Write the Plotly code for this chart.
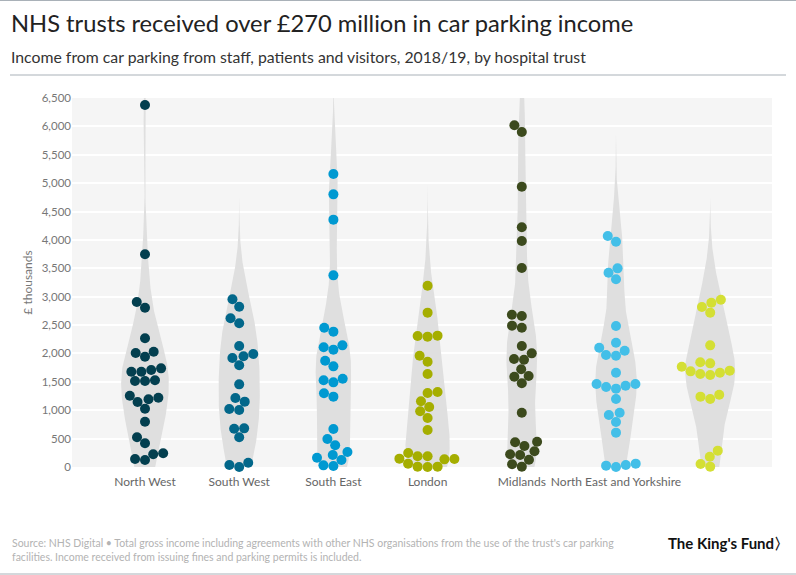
import numpy as np
import plotly.graph_objects as go

# ---------------- data (values in £ thousands) ----------------
regions = ["North West", "South West", "South East", "London", "Midlands",
           "North East and Yorkshire", "East of England"]
tick_labels = ["North West", "South West", "South East", "London", "Midlands",
               "North East and Yorkshire", ""]

north_west = [6377, 3747, 2906, 2806, 2267, 2008, 2031, 1943, 1679, 1679, 1709, 1738,
              1515, 1515, 1527, 1192, 1256, 1221, 1145, 1027, 798, 523, 417, 224, 241,
              141, 123]
south_west = [2954, 2824, 2619, 2531, 2131, 1950, 1990, 1920, 1791, 1456, 1215, 1151,
              1004, 1022, 681, 675, 523, 35, 0, 76]
south_east = [5161, 4803, 4357, 3376, 2454, 2384, 2143, 2108, 2067, 1873, 1773, 1556,
              1491, 1527, 1298, 1239, 669, 493, 382, 264, 211, 164, 123, 18, 29]
london = [3194, 2719, 2308, 2314, 2296, 1961, 1855, 1638, 1321, 1304, 1157, 1057, 981,
          863, 652, 247, 188, 147, 135, 188, 141, 59, 6, 0, 6]
midlands = [6019, 5901, 4938, 4222, 3981, 3505, 2660, 2683, 2454, 2490, 2131, 2002,
            1902, 1890, 1721, 1603, 1591, 1474, 957, 435, 446, 370, 276, 211, 224, 129,
            47, 6]
north_east_yorkshire = [4069, 3969, 3499, 3423, 3306, 2484, 2190, 2102, 2049, 1961, 1973,
                        1661, 1432, 1462, 1380, 1409, 1462, 1198, 916, 957, 793, 605, 35,
                        0, 24, 59]
east_of_england = [2894, 2947, 2818, 2719, 2143, 1844, 1826, 1767, 1638, 1685, 1621, 1661,
                   1697, 1274, 1198, 1239, 288, 182, 53, 6]

series = [north_west, south_west, south_east, london, midlands,
          north_east_yorkshire, east_of_england]
colors = ["#033f4f", "#02678a", "#0099d1", "#a5ae00", "#3c4a1d", "#43bfe8", "#d4df34"]

y_ticks = list(range(0, 6501, 500))

# ---------------- geometry helpers ----------------
W, H = 796, 575
ML, MR, MT, MB = 72, 24, 98, 108
PW, PH = W - ML - MR, H - MT - MB
Y_MAX = 6500
X_RANGE = [-0.775, 6.656]
PX_PER_UNIT = PH / Y_MAX
PX_PER_CAT = PW / (X_RANGE[1] - X_RANGE[0])
DOT = 10.0
BW = 600.0
HALF_MAX = 25.0 / PX_PER_CAT


def beeswarm(values):
    ys = np.asarray(values, float) * PX_PER_UNIT
    order = np.argsort(ys, kind="stable")
    xs = np.zeros(len(ys))
    placed = []
    for i in order:
        y = ys[i]
        cands = [0.0]
        intervals = []
        for px, py in placed:
            dy = abs(py - y)
            if dy < DOT:
                dx = np.sqrt(DOT * DOT - dy * dy)
                intervals.append((px - dx, px + dx))
                cands += [px - dx, px + dx]
        cands.sort(key=abs)
        for c in cands:
            if all(not (a + 1e-6 < c < b - 1e-6) for a, b in intervals):
                xs[i] = c
                break
        placed.append((xs[i], y))
    return xs / PX_PER_CAT


def kde(values):
    v = np.asarray(values, float)
    grid = np.linspace(v.min() - 3 * BW, v.max() + 3 * BW, 400)
    dens = np.exp(-0.5 * ((grid[:, None] - v[None, :]) / BW) ** 2).sum(1)
    dens /= len(v) * BW * np.sqrt(2 * np.pi)
    return grid, dens


kdes = [kde(s) for s in series]
dmax = max(d.max() for _, d in kdes)

fig = go.Figure()

# violins
for i, (grid, dens) in enumerate(kdes):
    hw = dens / dmax * HALF_MAX
    xs = np.concatenate([i + hw, (i - hw)[::-1]])
    ys = np.concatenate([grid, grid[::-1]])
    fig.add_trace(go.Scatter(x=xs, y=ys, fill="toself", fillcolor="#dfdfdf",
                             line=dict(width=0), mode="lines", hoverinfo="skip",
                             showlegend=False))

# dots
for i, s in enumerate(series):
    off = beeswarm(s)
    fig.add_trace(go.Scatter(x=i + off, y=s, mode="markers", name=regions[i],
                             marker=dict(size=DOT, color=colors[i], line=dict(width=0)),
                             cliponaxis=False, showlegend=False))

FONT = "Lato"

def px_x(p):
    return (p - ML) / PW

def px_y(p):
    return (H - MB - p) / PH

fig.update_layout(
    width=W, height=H,
    margin=dict(l=ML, r=MR, t=MT, b=MB, pad=0),
    paper_bgcolor="white", plot_bgcolor="#f5f5f5",
    font=dict(family=FONT, color="#666"),
    xaxis=dict(range=X_RANGE, tickvals=list(range(len(regions))), ticktext=tick_labels,
               showgrid=False, zeroline=False, showline=False, ticks="",
               tickfont=dict(size=12, color="#666", family=FONT), ticklabelstandoff=6,
               fixedrange=True),
    yaxis=dict(range=[0, Y_MAX], tickvals=y_ticks, tickformat=",d",
               showgrid=True, gridcolor="white", gridwidth=1.5, zeroline=False,
               showline=False, ticks="",
               tickfont=dict(size=11.5, color="#777", family=FONT),
               title=dict(text="£ thousands", font=dict(size=12, color="#777", family=FONT),
                          standoff=6),
               fixedrange=True),
    shapes=[
        dict(type="line", xref="paper", yref="paper", x0=px_x(0), x1=px_x(W),
             y0=px_y(0.5), y1=px_y(0.5), line=dict(color="#a9b1b8", width=1)),
        dict(type="line", xref="paper", yref="paper", x0=px_x(10), x1=px_x(786),
             y0=px_y(75), y1=px_y(75), line=dict(color="#a9b1b8", width=1)),
        dict(type="line", xref="paper", yref="paper", x0=px_x(0), x1=px_x(W),
             y0=px_y(574), y1=px_y(574), line=dict(color="#a9b1b8", width=1)),
    ],
    annotations=[
        dict(text="NHS trusts received over £270 million in car parking income",
             xref="paper", yref="paper", x=px_x(9), y=px_y(23), xanchor="left",
             yanchor="middle", showarrow=False,
             font=dict(size=23.7, color="#222", family=FONT)),
        dict(text="Income from car parking from staff, patients and visitors, 2018/19, by hospital trust",
             xref="paper", yref="paper", x=px_x(9), y=px_y(57), xanchor="left",
             yanchor="middle", showarrow=False,
             font=dict(size=15.8, color="#333", family=FONT)),
        dict(text="Source: NHS Digital • Total gross income including agreements with other NHS organisations from the use of the trust's car parking<br>facilities. Income received from issuing fines and parking permits is included.",
             xref="paper", yref="paper", x=px_x(10), y=px_y(550), xanchor="left",
             yanchor="middle", align="left", showarrow=False,
             font=dict(size=10.5, color="#b3b3b3", family=FONT)),
        dict(text="<b>The King's Fund〉</b>",
             xref="paper", yref="paper", x=px_x(791), y=px_y(543), xanchor="right",
             yanchor="middle", showarrow=False,
             font=dict(size=15, color="#111", family=FONT)),
    ],
)

fig.write_html("out.html")
